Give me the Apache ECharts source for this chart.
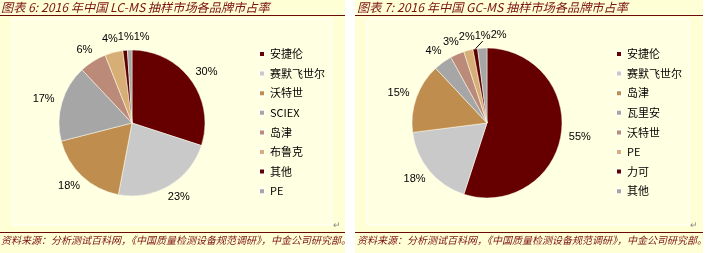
<!DOCTYPE html>
<html>
<head>
<meta charset="utf-8">
<script src="https://cdn.jsdelivr.net/npm/echarts@6/dist/echarts.min.js"></script>
<style>
  html, body { margin: 0; padding: 0; background: #fff; }
  #main { width: 709px; height: 253px; }
</style>
</head>
<body>
<div id="main"></div>
<script>
// 图表 6: LC-MS
var lcNames = ['安捷伦', '赛默飞世尔', '沃特世', 'SCIEX', '岛津', '布鲁克', '其他', 'PE'];
var lcValues = [30, 23, 18, 17, 6, 4, 1, 1];

// 图表 7: GC-MS
var gcNames = ['安捷伦', '赛默飞世尔', '岛津', '瓦里安', '沃特世', 'PE', '力可', '其他'];
var gcValues = [55, 18, 15, 4, 3, 2, 1, 2];

var palette = ['#660000', '#C9C9C9', '#BF8E4E', '#A6A6A6', '#BC8A79', '#D8AE77', '#5C0000', '#A6A6A6'];

var titleColor = '#7A1212';
var fontCJK = '"Noto Sans CJK SC", "DejaVu Sans", sans-serif';
var PIE_CY = 123;

var chartDom = document.getElementById('main');
var myChart = echarts.init(chartDom);

function makeData(names, values, lineIdx) {
    var out = [];
    for (var i = 0; i < names.length; i++) {
        var item = { name: names[i], value: values[i], itemStyle: { color: palette[i] } };
        if (i === lineIdx) {
            item.labelLine = { show: true, lineStyle: { color: '#000', width: 1 } };
        }
        out.push(item);
    }
    return out;
}

// 类似 Excel 的"数据标签外"：标签沿半径方向贴在扇区外面
function radialLayout(values, cx, cy, r, gap) {
    var total = 0;
    for (var k = 0; k < values.length; k++) total += values[k];
    return function (params) {
        var i = params.dataIndex;
        var before = 0;
        for (var k = 0; k < i; k++) before += values[k];
        var mid = (before + values[i] / 2) / total * Math.PI * 2;
        var sx = Math.sin(mid), sy = -Math.cos(mid);
        var ax = cx + (r + gap) * sx, ay = cy + (r + gap) * sy;
        var w = params.labelRect.width, h = params.labelRect.height;
        var nearTop = Math.abs(Math.sin(mid)) < 0.5 && sy < 0;
        var res = {
            x: ax + sx * w / 2,
            y: ay + sy * h / 2,
            align: 'center',
            verticalAlign: 'middle'
        };
        if (nearTop) res.moveOverlap = 'shiftX';
        return res;
    };
}

function pieSeries(names, values, cx, r, lineIdx) {
    return {
        type: 'pie',
        center: [cx, PIE_CY],
        radius: r,
        startAngle: 90,
        clockwise: true,
        avoidLabelOverlap: false,
        data: makeData(names, values, lineIdx),
        itemStyle: {
            borderColor: '#FFFFF0',
            borderWidth: 0.5
        },
        label: {
            show: true,
            formatter: '{d}%',
            color: '#000',
            fontSize: 11,
            fontFamily: 'Liberation Sans, Arial, sans-serif'
        },
        labelLine: {
            show: false,
            length: 6,
            length2: 0
        },
        labelLayout: radialLayout(values, cx, PIE_CY, r, 8),
        emphasis: { disabled: true }
    };
}

function legendAt(names, left) {
    return {
        orient: 'vertical',
        left: left,
        top: 47,
        padding: 0,
        icon: 'rect',
        itemWidth: 6,
        itemHeight: 6,
        itemGap: 5.6,
        data: names.map(function (n, i) {
            return { name: n, itemStyle: { color: palette[i] } };
        }),
        textStyle: {
            fontSize: 11,
            lineHeight: 14,
            color: '#000',
            fontFamily: fontCJK
        },
        selectedMode: false
    };
}

function panelGraphics(x0, w, innerX, innerW) {
    return [
        { type: 'rect', shape: { x: x0, y: 0, width: w, height: 253 }, style: { fill: '#FFFFD6' }, z: -10 },
        { type: 'rect', shape: { x: innerX, y: 19, width: innerW, height: 206 }, style: { fill: '#FFFFE2', stroke: '#FFFFFF', lineWidth: 1 }, z: -9 },
        { type: 'line', shape: { x1: x0, y1: 15.5, x2: x0 + w, y2: 15.5 }, style: { stroke: '#6B0A0A', lineWidth: 1.2 }, z: -5 },
        { type: 'line', shape: { x1: x0, y1: 232.5, x2: x0 + w, y2: 232.5 }, style: { stroke: '#6B0A0A', lineWidth: 1.2 }, z: -5 },
        { type: 'text', left: innerX + innerW + 1, top: 221, style: { text: '↵', fill: '#888', fontSize: 9 } }
    ];
}

var sourceText = '资料来源：分析测试百科网，《中国质量检测设备规范调研》，中金公司研究部。';

function textTitle(text, left, top, size) {
    return {
        text: text,
        left: left, top: top, padding: 0,
        textStyle: { fontSize: size, fontStyle: 'italic', fontWeight: 'normal', color: titleColor, fontFamily: fontCJK }
    };
}

var option = {
    animation: false,
    color: palette,
    title: [
        textTitle('图表 6: 2016 年中国 LC-MS 抽样市场各品牌市占率', 1, 1, 12.2),
        textTitle('图表 7: 2016 年中国 GC-MS 抽样市场各品牌市占率', 357, 1, 12.2),
        textTitle(sourceText, 1, 235, 10),
        textTitle(sourceText, 357, 235, 10)
    ],
    legend: [legendAt(lcNames, 258), legendAt(gcNames, 615)],
    graphic: panelGraphics(0, 345, 12, 320).concat(panelGraphics(355, 348, 367, 322)),
    series: [
        pieSeries(lcNames, lcValues, 132, 73, -1),
        pieSeries(gcNames, gcValues, 487, 75, 6)
    ]
};

option && myChart.setOption(option);
</script>
</body>
</html>
